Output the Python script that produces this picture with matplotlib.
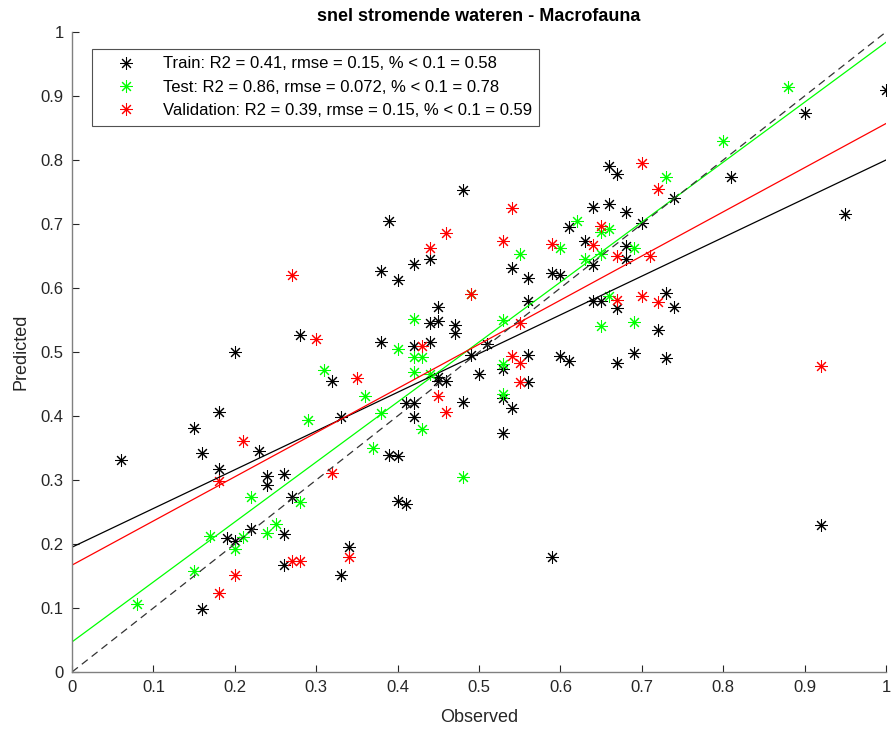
import matplotlib
matplotlib.use("Agg")
import matplotlib.pyplot as plt
import numpy as np

plt.rcParams["font.family"] = ["Liberation Sans", "DejaVu Sans"]

# observed / predicted pairs per subset
train_obs = [0.06, 0.16, 0.23, 0.18, 0.24, 0.24, 0.26, 0.27, 0.19, 0.20, 0.22, 0.26, 0.26, 0.34, 0.33, 0.16,
             0.28, 0.20, 0.32, 0.18, 0.15, 0.33,
             0.48, 0.39, 0.44, 0.42, 0.54, 0.56, 0.38, 0.40, 0.45, 0.44, 0.45, 0.47, 0.47, 0.56, 0.38, 0.42, 0.44, 0.51,
             0.49, 0.50, 0.45, 0.45, 0.46, 0.48, 0.42, 0.41, 0.42, 0.53, 0.56, 0.56, 0.53, 0.54, 0.53, 0.60, 0.61, 0.67,
             0.66, 0.67, 0.74, 0.64, 0.66, 0.68, 0.61, 0.70, 0.63, 0.68, 0.68, 0.64, 0.59, 0.60, 0.64, 0.65, 0.67, 0.73,
             0.74, 0.72, 0.69, 0.73,
             1.00, 0.90, 0.81, 0.95, 0.92,
             0.39, 0.40, 0.40, 0.41, 0.59]
train_pred = [0.331, 0.342, 0.346, 0.317, 0.306, 0.292, 0.310, 0.274, 0.210, 0.204, 0.223, 0.216, 0.167, 0.195, 0.152, 0.098,
              0.526, 0.4995, 0.454, 0.407, 0.382, 0.399,
              0.7525, 0.705, 0.645, 0.637, 0.632, 0.616, 0.627, 0.6125, 0.571, 0.546, 0.549, 0.542, 0.529, 0.580, 0.516, 0.509, 0.516, 0.5125,
              0.496, 0.465, 0.461, 0.454, 0.454, 0.4225, 0.420, 0.420, 0.399, 0.474, 0.496, 0.453, 0.428, 0.412, 0.373, 0.494, 0.486, 0.4835,
              0.791, 0.778, 0.741, 0.727, 0.731, 0.718, 0.695, 0.701, 0.674, 0.665, 0.645, 0.636, 0.623, 0.620, 0.579, 0.580, 0.568, 0.592,
              0.571, 0.534, 0.499, 0.490,
              0.910, 0.873, 0.774, 0.715, 0.229,
              0.339, 0.338, 0.267, 0.2625, 0.179]

test_obs = [0.22, 0.28, 0.17, 0.20, 0.21, 0.24, 0.25, 0.15, 0.08,
            0.31, 0.29,
            0.55, 0.60, 0.63, 0.49, 0.42, 0.53, 0.40, 0.42, 0.43, 0.42, 0.44, 0.43, 0.38, 0.36, 0.37, 0.53, 0.53,
            0.73, 0.62, 0.65, 0.66, 0.69, 0.65, 0.66, 0.65, 0.69,
            0.88, 0.80, 0.48]
test_pred = [0.273, 0.265, 0.2125, 0.192, 0.211, 0.217, 0.232, 0.158, 0.106,
             0.472, 0.394,
             0.653, 0.662, 0.646, 0.590, 0.551, 0.550, 0.505, 0.492, 0.492, 0.469, 0.466, 0.379, 0.404, 0.432, 0.350, 0.481, 0.435,
             0.774, 0.704, 0.688, 0.692, 0.663, 0.653, 0.587, 0.541, 0.547,
             0.9145, 0.830, 0.304]

val_obs = [0.21, 0.18, 0.32, 0.27, 0.28, 0.34, 0.20, 0.18,
           0.27, 0.30, 0.35,
           0.46, 0.53, 0.44, 0.54, 0.49, 0.55, 0.43, 0.45, 0.46, 0.54, 0.55, 0.55,
           0.70, 0.72, 0.65, 0.64, 0.59, 0.67, 0.71, 0.67, 0.70, 0.72,
           0.92]
val_pred = [0.3615, 0.299, 0.311, 0.174, 0.174, 0.180, 0.152, 0.123,
            0.621, 0.521, 0.459,
            0.686, 0.6735, 0.6625, 0.725, 0.590, 0.546, 0.509, 0.432, 0.407, 0.494, 0.4835, 0.453,
            0.795, 0.754, 0.697, 0.667, 0.669, 0.6505, 0.6505, 0.581, 0.587, 0.578,
            0.478]

# linear fits (slope, intercept) per subset
train_fit = [0.605, 0.195]
test_fit = [0.937, 0.047]
val_fit = [0.690, 0.167]

labels = [
    "Train: R2 = 0.41, rmse = 0.15, % < 0.1 = 0.58",
    "Test: R2 = 0.86, rmse = 0.072, % < 0.1 = 0.78",
    "Validation: R2 = 0.39, rmse = 0.15, % < 0.1 = 0.59",
]
colors = ["black", "#00ff00", "#ff0000"]

fig = plt.figure(figsize=(8.94, 7.31), dpi=100)
ax = fig.add_axes([72 / 894, 59 / 731, 814 / 894, 640 / 731])

star = (8, 2, 0)
subsets = [(train_obs, train_pred), (test_obs, test_pred), (val_obs, val_pred)]
for (xo, yp), col, lab in zip(subsets, colors, labels):
    ax.plot(xo, yp, linestyle="none", marker=star, markersize=9, markeredgewidth=0.75,
            color=col, label=lab)

xs = np.array([0.0, 1.0])
for (slope, icpt), col in zip([train_fit, test_fit, val_fit], colors):
    ax.plot(xs, slope * xs + icpt, color=col, linewidth=0.9)
ax.plot(xs, xs, color="#333333", linestyle=(0, (6, 4)), linewidth=0.9)

ax.set_xlim(0, 1)
ax.set_ylim(0, 1)
ticks = np.arange(0, 1.01, 0.1)
ticklabels = ["0"] + [f"{t:.1f}" for t in ticks[1:-1]] + ["1"]
ax.set_xticks(ticks)
ax.set_xticklabels(ticklabels)
ax.set_yticks(ticks)
ax.set_yticklabels(ticklabels)
ax.tick_params(direction="in", length=5, width=0.8, colors="#262626", labelsize=12,
               top=False, right=False, pad=6)
for side in ["top", "right"]:
    ax.spines[side].set_visible(False)
for side in ["left", "bottom"]:
    ax.spines[side].set_color("#808080")
    ax.spines[side].set_linewidth(1.0)

ax.set_xlabel("Observed", fontsize=13, color="#262626", labelpad=10)
ax.set_ylabel("Predicted", fontsize=13, color="#262626", labelpad=8)
ax.set_title("snel stromende wateren - Macrofauna", fontsize=13, fontweight="bold", pad=8)

leg = ax.legend(loc="upper left", bbox_to_anchor=(20 / 814, 1 - 17 / 640), borderaxespad=0,
                fontsize=12, frameon=True, fancybox=False, edgecolor="#262626",
                handlelength=3.2, handletextpad=0.6, borderpad=0.45, labelspacing=0.5,
                numpoints=1)
leg.get_frame().set_linewidth(0.8)

fig.savefig("out.png", dpi=100)
